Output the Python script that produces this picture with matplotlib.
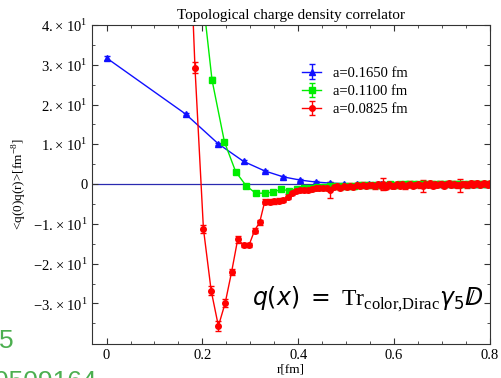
import numpy as np
from matplotlib import pyplot as plt

plt.rcParams["font.family"] = ["Liberation Serif", "DejaVu Serif"]
plt.rcParams["mathtext.fontset"] = "custom"
plt.rcParams["mathtext.rm"] = "Liberation Serif"
plt.rcParams["mathtext.it"] = "DejaVu Sans:italic"
plt.rcParams["mathtext.sf"] = "DejaVu Sans"

# lattice spacings [fm]; points sit at r = sqrt(n) * a
a_blue, a_green, a_red = 0.1650, 0.1100, 0.0825

blue_n = list(range(0, 24))
blue_y = [31.7, 17.6, 10.1, 5.7, 3.3, 1.8, 1.0, 0.5, 0.25, 0.1, 0.05, 0.0,
          0.0, -0.05, 0.0, 0.0, 0.0, 0.0, 0.0, 0.0, 0.0, 0.0, 0.0, 0.0]
blue_err = [0.4, 0.3, 0.3, 0.3, 0.2, 0.2, 0.2, 0.2, 0.2, 0.2, 0.2, 0.2,
            0.2, 0.2, 0.2, 0.2, 0.2, 0.2, 0.2, 0.2, 0.2, 0.2, 0.2, 0.2]

green_n = list(range(1, 53))
green_y = [300, 120, 58, 26.2, 10.6, 3.1, -0.4, -2.3, -2.3, -2.0, -1.3, -1.7,
           -1.2, -1.1, -0.9, -0.8, -0.7, -0.6, -0.6, -0.5, -0.4, -0.4,
           -0.3, -0.3, -0.3, -0.2, -0.2, -0.2, -0.1, -0.2, -0.1, -0.1,
           0.0, -0.1, 0.0, 0.0, -0.1, 0.0, 0.1, 0.0, -0.1, 0.0,
           0.0, 0.1, 0.0, -0.1, 0.0, 0.0, 0.0, 0.1, 0.0, 0.0]
green_err = [3, 2, 1.0, 0.6, 0.5, 0.5, 0.4, 0.4, 0.4, 0.4, 0.4, 0.4] + [0.3] * 40

red_n = list(range(1, 95))
red_y = [400, 250, 150, 89, 29.3, -11.2, -26.8, -35.7, -29.9, -22.1, -13.9,
         -15.3, -15.3, -11.7, -9.6, -4.4, -4.4, -4.3, -4.2, -4.0, -3.2,
         -2.2, -1.8, -1.6, -1.5, -1.4, -1.2, -1.1, -1.0, -0.9, -0.9,
         -1.6,
         -0.8, -0.5, -0.9, -0.6, -0.8, -0.4, -0.7, -0.3, -0.6, -0.2,
         -0.6, -0.3, -0.2, -0.6, -0.1, -0.5, -0.1, -0.7, -0.1, -0.4,
         -0.5, 0.0, -0.4, -0.1, -0.6, -0.2, 0.1, -0.4, -0.2, 0.1,
         -0.3, -0.5, 0.0, -0.3, 0.2, -0.4, -0.1, -0.3, 0.1, -0.1,
         -0.4, 0.0, 0.2, -0.3, 0.1, -0.2, -0.3, -0.3, 0.0, 0.1,
         -0.3, 0.0, 0.2, -0.2, 0.1, 0.3, -0.2, 0.0, 0.2, -0.1,
         -0.2, 0.2]
red_err = [3, 3, 3, 3, 1.5, 1.0, 1.1, 1.2, 0.9, 0.8, 0.8,
           0.6, 0.6, 0.6, 0.6, 0.6, 0.6, 0.6, 0.6, 0.6, 0.6,
           0.5, 0.5, 0.5, 0.5, 0.5, 0.5, 0.5, 0.5, 0.5, 0.5,
           2.0,
           0.5, 0.6, 0.5, 0.6, 0.5, 0.6, 0.5, 0.6, 0.5, 0.6,
           0.5, 0.6, 0.5, 0.6, 0.5, 0.6, 1.5, 0.5, 0.6, 0.5,
           0.6, 0.5, 0.6, 0.5, 0.6, 0.5, 0.6, 0.5, 0.6, 0.5,
           0.6, 1.5, 0.6, 0.5, 0.6, 0.5, 0.6, 0.5, 0.6, 0.5,
           0.6, 0.5, 0.6, 0.5, 0.6, 0.5, 0.6, 1.6, 0.6, 0.5,
           0.6, 0.5, 0.6, 0.5, 0.6, 0.5, 0.6, 0.5, 0.6, 0.5,
           0.6, 0.5]

yticks = [-30, -20, -10, 0, 10, 20, 30, 40]
ytick_labels = ["\u22123.\u2009\u00d7\u200910$^{1}$", "\u22122.\u2009\u00d7\u200910$^{1}$",
                "\u22121.\u2009\u00d7\u200910$^{1}$", "0",
                "1.\u2009\u00d7\u200910$^{1}$", "2.\u2009\u00d7\u200910$^{1}$",
                "3.\u2009\u00d7\u200910$^{1}$", "4.\u2009\u00d7\u200910$^{1}$"]
xticks = [0, 0.2, 0.4, 0.6, 0.8]
xtick_labels = ["0", "0.2", "0.4", "0.6", "0.8"]

fig = plt.figure(figsize=(5.01, 3.78), dpi=100)
ax = fig.add_axes([0.184, 0.09, 0.794, 0.844])

ax.axhline(0, color="#2a2ab0", lw=0.9, zorder=1)

series = [
    (a_blue, blue_n, blue_y, blue_err, "#1010ff", "^", "a=0.1650 fm"),
    (a_green, green_n, green_y, green_err, "#00ee00", "s", "a=0.1100 fm"),
    (a_red, red_n, red_y, red_err, "#ff0000", "o", "a=0.0825 fm"),
]
for a, n, y, err, col, mk, lab in series:
    r = np.sqrt(np.array(n)) * a
    ax.errorbar(r, y, yerr=err, color=col, marker=mk, ms=4, lw=1.0,
                elinewidth=1.0, capsize=2.5, capthick=1.0, label=lab, zorder=2)

ax.set_xlim(-0.03, 0.8)
ax.set_ylim(-40.2, 40)
ax.set_xticks(xticks)
ax.set_xticklabels(xtick_labels)
ax.set_yticks(yticks)
ax.set_yticklabels(ytick_labels)
ax.set_xticks(np.arange(0, 0.8, 0.05), minor=True)
ax.set_yticks(np.arange(-35, 40, 5), minor=True)
ax.tick_params(which="both", direction="in", top=True, right=True,
               labelsize=10.5, color="#333333")
ax.tick_params(which="major", length=4.5)
ax.tick_params(which="minor", length=2.5)
for sp in ax.spines.values():
    sp.set_color("#333333")

ax.set_title("Topological charge density correlator", fontsize=11, pad=4)
ax.set_xlabel("r[fm]", fontsize=9.5, labelpad=1)
ax.set_ylabel(r"<q(0)q(r)>[fm$^{-8}$]", fontsize=9.5, labelpad=3)

ax.legend(loc="upper left", bbox_to_anchor=(0.528, 0.87), frameon=False,
          fontsize=10.5, handlelength=1.3, handletextpad=0.8, labelspacing=0.35,
          borderaxespad=0, borderpad=0)

ax.text(0.786, -30.5,
        r"$q\mathsf{(}x\mathsf{)}\;\mathsf{=}\;\mathrm{Tr}_{\mathrm{color{,}Dirac}}\gamma_{\mathsf{5}}D\!\!\!\!/$",
        fontsize=17, ha="right", va="baseline")

fig.text(-0.002, 0.08, "5", color="#4caf50", fontsize=19, family="Liberation Sans",
         ha="left", va="baseline")
fig.text(-0.012, -0.028, "0509164", color="#4caf50", fontsize=19, family="Liberation Sans",
         ha="left", va="baseline")

fig.savefig("out.png", dpi=100)
